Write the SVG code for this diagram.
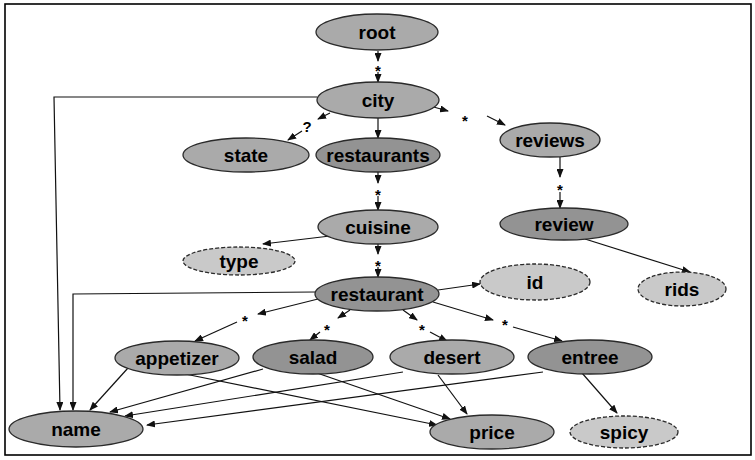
<svg xmlns="http://www.w3.org/2000/svg" width="755" height="460" viewBox="0 0 755 460">
<style>
.n ellipse{stroke:#2a2a2a;stroke-width:1.3}
.dark{fill:#939393}
.mid{fill:#aaaaaa}
.light{fill:#c9c9c9;stroke-dasharray:4 2}
.n text{font-family:"Liberation Sans",Arial,sans-serif;font-weight:bold;font-size:19px;fill:#000;text-anchor:middle}
.e path{fill:none;stroke:#111;stroke-width:1.2}
.e .a{marker-end:url(#ah)}
.e text{font-family:"Liberation Sans",Arial,sans-serif;font-weight:bold;font-size:15px;fill:#000;text-anchor:middle}
</style>
<defs>
<marker id="ah" markerUnits="userSpaceOnUse" markerWidth="9" markerHeight="7" refX="8" refY="3.5" orient="auto">
<path d="M0,0 L9,3.5 L0,7 z" fill="#111"/>
</marker>
</defs>
<rect x="5" y="4" width="746" height="451" fill="#fff" stroke="#000" stroke-width="1.6"/>
<g class="e" id="connectors">
<path class="a" d="M378,51 L378,61"/><text x="378" y="76">*</text><path class="a" d="M378,72 L378,82"/>
<path class="a" d="M330,113 L318,119"/><text x="307" y="132">?</text><path class="a" d="M302,131 L288,140"/>
<path class="a" d="M378,118 L378,138"/>
<path class="a" d="M430,106 L448,111"/><text x="465" y="126">*</text><path class="a" d="M487,116 L505,125"/>
<path class="a" d="M378,172 L378,183"/><text x="378" y="200">*</text><path class="a" d="M378,196 L378,210"/>
<path class="a" d="M560,157 L560,177"/><text x="560" y="195">*</text><path class="a" d="M560,192 L560,208"/>
<path class="a" d="M585,239 L690,272"/>
<path class="a" d="M330,236 L263,244"/>
<path class="a" d="M378,244 L378,254"/><text x="378" y="271">*</text><path class="a" d="M378,267 L378,277"/>
<path class="a" d="M438,290 L480,284"/>
<path class="a" d="M318,299 L258,314"/><text x="245" y="326">*</text><path class="a" d="M237,322 L195,341"/>
<path class="a" d="M350,310 L338,318"/><text x="327" y="335">*</text><path class="a" d="M320,332 L310,340"/>
<path class="a" d="M403,310 L417,320"/><text x="422" y="335">*</text><path class="a" d="M430,332 L447,341"/>
<path class="a" d="M433,302 L493,320"/><text x="505" y="330">*</text><path class="a" d="M513,327 L562,341"/>
<path class="a" d="M315,292 L73,294 L73,410"/>
<path class="a" d="M317,97 L54,97 L60,410"/>
<path class="a" d="M128,368 L90,410"/>
<path class="a" d="M185,374 L437,425"/>
<path class="a" d="M263,369 L110,412"/>
<path class="a" d="M317,373 L450,419"/>
<path class="a" d="M403,372 L125,416"/>
<path class="a" d="M438,375 L467,414"/>
<path class="a" d="M543,372 L147,425"/>
<path class="a" d="M582,373 L617,413"/>
</g>
<g class="n" id="root"><ellipse class="mid" cx="377" cy="32" rx="61" ry="18"/><text x="377" y="39">root</text></g>
<g class="n" id="city"><ellipse class="mid" cx="378" cy="100" rx="61" ry="18"/><text x="378" y="107">city</text></g>
<g class="n" id="state"><ellipse class="mid" cx="246" cy="155" rx="63" ry="17"/><text x="246" y="162">state</text></g>
<g class="n" id="restaurants"><ellipse class="dark" cx="378" cy="155" rx="62" ry="17"/><text x="378" y="162">restaurants</text></g>
<g class="n" id="reviews"><ellipse class="mid" cx="550" cy="140" rx="50" ry="17"/><text x="550" y="147">reviews</text></g>
<g class="n" id="review"><ellipse class="dark" cx="564" cy="224" rx="64" ry="16"/><text x="564" y="231">review</text></g>
<g class="n" id="cuisine"><ellipse class="mid" cx="378" cy="227" rx="60" ry="17"/><text x="378" y="234">cuisine</text></g>
<g class="n" id="type"><ellipse class="light" cx="239" cy="261" rx="56" ry="14"/><text x="239" y="268">type</text></g>
<g class="n" id="restaurant"><ellipse class="dark" cx="377" cy="294" rx="62" ry="17"/><text x="377" y="301">restaurant</text></g>
<g class="n" id="id"><ellipse class="light" cx="535" cy="282" rx="55" ry="18"/><text x="535" y="289">id</text></g>
<g class="n" id="rids"><ellipse class="light" cx="682" cy="289" rx="44" ry="17"/><text x="682" y="296">rids</text></g>
<g class="n" id="appetizer"><ellipse class="mid" cx="177" cy="358" rx="62" ry="17"/><text x="177" y="365">appetizer</text></g>
<g class="n" id="salad"><ellipse class="dark" cx="313" cy="357" rx="60" ry="17"/><text x="313" y="364">salad</text></g>
<g class="n" id="desert"><ellipse class="mid" cx="452" cy="357" rx="62" ry="17"/><text x="452" y="364">desert</text></g>
<g class="n" id="entree"><ellipse class="dark" cx="590" cy="357" rx="62" ry="17"/><text x="590" y="364">entree</text></g>
<g class="n" id="name"><ellipse class="mid" cx="76" cy="429" rx="67" ry="18"/><text x="76" y="436">name</text></g>
<g class="n" id="price"><ellipse class="mid" cx="492" cy="432" rx="62" ry="17"/><text x="492" y="439">price</text></g>
<g class="n" id="spicy"><ellipse class="light" cx="624" cy="432" rx="54" ry="16"/><text x="624" y="439">spicy</text></g>
</svg>
